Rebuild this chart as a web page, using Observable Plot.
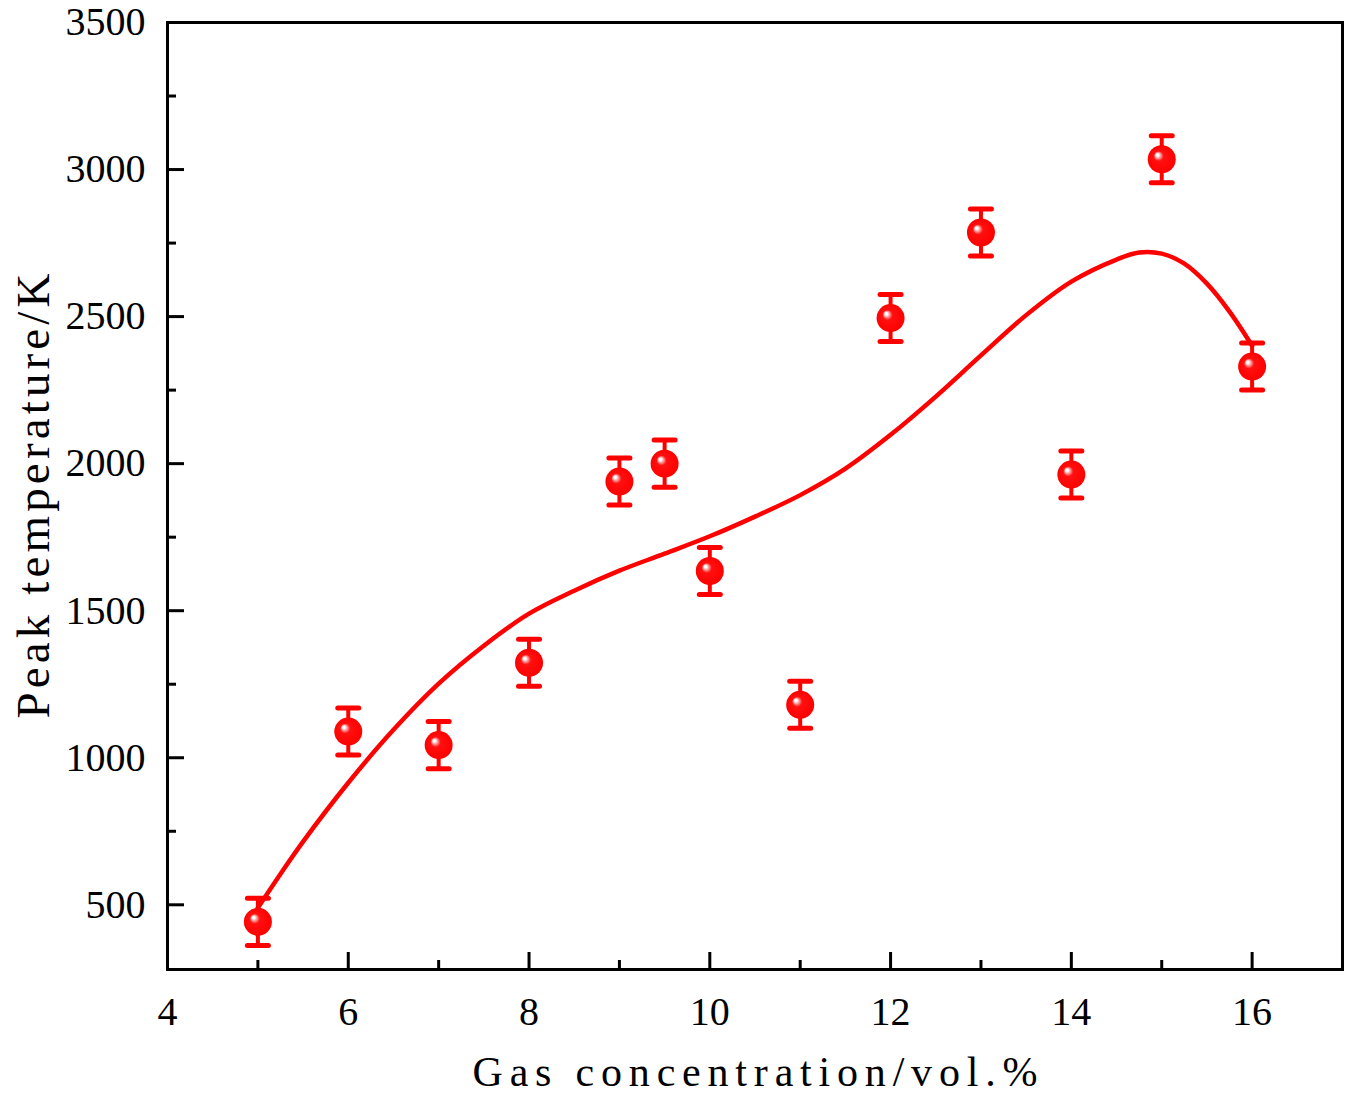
<!DOCTYPE html>
<html>
<head>
<meta charset="utf-8">
<script src="https://cdn.jsdelivr.net/npm/d3@7"></script>
<script src="https://cdn.jsdelivr.net/npm/@observablehq/plot@0.6"></script>
<style>
  html, body { margin: 0; padding: 0; background: #fff; }
</style>
</head>
<body>
<div id="chart"></div>
<script>
// Measured points
const conc = [5, 6, 7, 8, 9, 9.5, 10, 11, 12, 13, 14, 15, 16];
const temp = [442, 1089, 1043, 1323, 1939, 2000, 1635, 1180, 2495, 2786, 1963, 3035, 2330];
const errs = [80, 80, 80, 80, 80, 80, 80, 80, 80, 80, 80, 80, 80];

// Fitted curve
const fitX = [5, 5.25, 5.5, 6, 6.5, 7, 7.5, 8, 8.5, 9, 9.5, 10, 10.5, 11, 11.5, 12, 12.5, 13, 13.5, 14, 14.5, 14.75, 15, 15.25, 15.5, 15.75, 16];
const fitY = [490, 605, 715, 915, 1095, 1252, 1381, 1490, 1568, 1636, 1694, 1753, 1820, 1893, 1983, 2098, 2228, 2368, 2505, 2619, 2694, 2718, 2714, 2680, 2612, 2517, 2401];

// Tick values
const xMajor = [4, 6, 8, 10, 12, 14, 16];
const xMinor = [5, 7, 9, 11, 13, 15, 17];
const yMajor = [500, 1000, 1500, 2000, 2500, 3000, 3500];
const yMinor = [750, 1250, 1750, 2250, 2750, 3250];

const xLabel = "Gas concentration/vol.%";
const yLabel = "Peak temperature/K";

const points = conc.map((c, i) => ({x: c, y: temp[i], lo: temp[i] - errs[i], hi: temp[i] + errs[i]}));
const fit = fitX.map((x, i) => ({x, y: fitY[i]}));

const capSymbol = {
  draw(context, size) {
    const w = Math.sqrt(size / Math.PI);
    context.moveTo(-w, 0);
    context.lineTo(w, 0);
  }
};

const serif = "'Liberation Serif', 'Times New Roman', serif";

const svg = Plot.plot({
  width: 1347,
  height: 1095,
  marginLeft: 167,
  marginRight: 5,
  marginTop: 22,
  marginBottom: 126,
  style: {fontFamily: serif, background: "#fff", color: "#000"},
  x: {domain: [4, 17]},
  y: {domain: [280, 3500]},
  marks: [
    Plot.axisY({ticks: yMinor, tickSize: -9, tickFormat: () => "", strokeWidth: 3, label: null}),
    Plot.axisY({ticks: yMajor, tickSize: -17, tickPadding: 39, strokeWidth: 3, fontSize: 40, fontFamily: serif, fill: "#000", label: null, tickFormat: d => String(d)}),
    Plot.axisX({ticks: xMinor, tickSize: -9, tickFormat: () => "", strokeWidth: 3, label: null}),
    Plot.axisX({ticks: xMajor, tickSize: -17, tickPadding: 44, strokeWidth: 3, fontSize: 40, fontFamily: serif, fill: "#000", label: null, tickFormat: d => String(d)}),
    Plot.frame({stroke: "#000", strokeWidth: 3}),
    Plot.line(fit, {x: "x", y: "y", curve: "catmull-rom", stroke: "#ff0000", strokeWidth: 4.5}),
    Plot.ruleX(points, {x: "x", y1: "lo", y2: "hi", stroke: "#ff0000", strokeWidth: 4}),
    Plot.dot(points, {x: "x", y: "lo", symbol: capSymbol, r: 10.5, stroke: "#ff0000", strokeWidth: 5, strokeLinecap: "round", fill: "none"}),
    Plot.dot(points, {x: "x", y: "hi", symbol: capSymbol, r: 10.5, stroke: "#ff0000", strokeWidth: 5, strokeLinecap: "round", fill: "none"}),
    Plot.dot(points, {x: "x", y: "y", r: 14, fill: "url(#ballGrad)", stroke: "none"}),
    Plot.text([xLabel], {frameAnchor: "bottom", dy: 116, fontSize: 42, fill: "#000", fontFamily: serif, className: "xlab"}),
    Plot.text([yLabel], {frameAnchor: "left", dx: -134, rotate: -90, fontSize: 47, fill: "#000", fontFamily: serif, className: "ylab"})
  ]
});

const defs = d3.select(svg).insert("defs", ":first-child");
const g = defs.append("radialGradient")
  .attr("id", "ballGrad")
  .attr("cx", "0.5").attr("cy", "0.5").attr("r", "0.5")
  .attr("fx", "0.33").attr("fy", "0.33");
g.append("stop").attr("offset", "0").attr("stop-color", "#ffffff");
g.append("stop").attr("offset", "0.09").attr("stop-color", "#ffffff");
g.append("stop").attr("offset", "0.2").attr("stop-color", "#ff9a9a");
g.append("stop").attr("offset", "0.36").attr("stop-color", "#ff1010");
g.append("stop").attr("offset", "1").attr("stop-color", "#ff0000");

document.getElementById("chart").appendChild(svg);

// stretch axis titles to the reference's wide, evenly spaced look
d3.select(svg).selectAll(".xlab text")
  .attr("text-anchor", "start").attr("x", -565 / 2)
  .attr("textLength", 565).attr("lengthAdjust", "spacing");
d3.select(svg).selectAll(".ylab text")
  .attr("text-anchor", "start").attr("x", -445 / 2)
  .attr("textLength", 445).attr("lengthAdjust", "spacing");
</script>
</body>
</html>
